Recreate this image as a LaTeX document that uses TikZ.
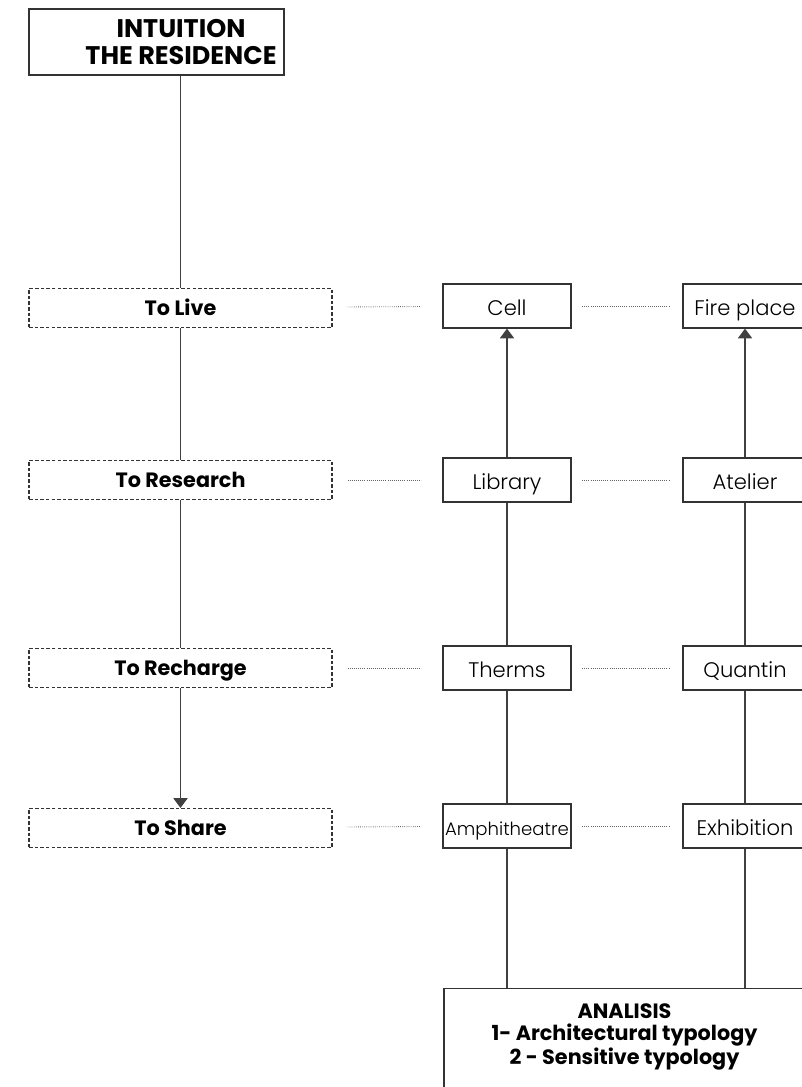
\documentclass[tikz,border=0pt]{standalone}
\usepackage{fontspec}
\setmainfont{Poppins}
\newfontfamily\lightfont{Poppins Light}
\usetikzlibrary{arrows.meta}

\tikzset{
  headbox/.style={draw=black!80, line width=0.8pt},
  headtext/.style={font=\bfseries\fontsize{14.5}{15.5}\selectfont, align=center},
  actbox/.style={draw=black!80, line width=0.7pt, dash pattern=on 2pt off 1.2pt,
    minimum width=6.06cm, minimum height=0.78cm, text height=11.3pt, text depth=2.5pt,
    font=\bfseries\fontsize{11.8}{12}\selectfont},
  placebox/.style={draw=black!80, line width=0.7pt, minimum width=2.56cm,
    minimum height=0.88cm, inner xsep=1pt, inner ysep=0pt, text height=13pt, text depth=2.5pt,
    font=\lightfont\fontsize{12}{13}\selectfont},
  flow/.style={draw=black!75, line width=0.8pt},
  link/.style={draw=black!60, line width=0.5pt, dash pattern=on 0.4pt off 0.8pt},
  tip/.style={-{Triangle[width=8pt,length=5.5pt]}}
}

\begin{document}
\begin{tikzpicture}[x=0.02cm, y=-0.02cm]
    \useasboundingbox (0,0) rectangle (801,1087);

    % Intuition
    \node[headbox, minimum width=5.1cm, minimum height=1.32cm] (intuition) at (156.5,42) {};
    \node[headtext] (intuitiontext) at (181,42) {INTUITION\\THE RESIDENCE};

    % Actions
    \node[actbox] (live) at (180.5,308) {To Live};
    \node[actbox] (research) at (180.5,480) {To Research};
    \node[actbox] (recharge) at (180.5,668) {To Recharge};
    \node[actbox] (share) at (180.5,828) {To Share};

    % Architectural typology
    \node[placebox] (cell) at (507,306) {Cell};
    \node[placebox] (library) at (507,480) {Library};
    \node[placebox] (therms) at (507,668) {Therms};
    \node[placebox, inner xsep=0pt, font=\lightfont\fontsize{10.3}{12}\selectfont] (amphi) at (507,826) {Amphitheatre};

    % Sensitive typology
    \node[placebox, minimum width=2.48cm] (fire) at (745,306) {Fire place};
    \node[placebox, minimum width=2.48cm] (atelier) at (745,480) {Atelier};
    \node[placebox, minimum width=2.48cm] (quantin) at (745,668) {Quantin};
    \node[placebox, minimum width=2.48cm] (expo) at (745,826) {Exhibition};

    % Analisis
    \node[headbox, minimum width=7.22cm, minimum height=2.6cm, anchor=north] (analisis) at (624.5,988) {};
    \node[headtext, font=\bfseries\fontsize{11.8}{12.4}\selectfont] (analisistext) at (624.5,1037)
      {ANALISIS\\1- Architectural typology\\2 - Sensitive typology};

    % Left spine
    \draw[flow] (intuition.south -| live.north) -- (live.north);
    \draw[flow] (live) -- (research);
    \draw[flow] (research) -- (recharge);
    \draw[flow, tip] (recharge) -- (share);

    % Columns
    \draw[flow] (analisis.north -| amphi.south) -- (amphi.south);
    \draw[flow] (amphi) -- (therms);
    \draw[flow] (therms) -- (library);
    \draw[flow, tip] (library) -- (cell);
    \draw[flow] (analisis.north -| expo.south) -- (expo.south);
    \draw[flow] (expo) -- (quantin);
    \draw[flow] (quantin) -- (atelier);
    \draw[flow, tip] (atelier) -- (fire);

    % Dotted links
    \foreach \a/\b/\c in {live/cell/fire, research/library/atelier, recharge/therms/quantin, share/amphi/expo} {
      \draw[link, shorten <=8.5pt, shorten >=12pt] (\a) -- (\b);
      \draw[link, shorten <=6pt, shorten >=7pt] (\b) -- (\c);
    }
\end{tikzpicture}
\end{document}
